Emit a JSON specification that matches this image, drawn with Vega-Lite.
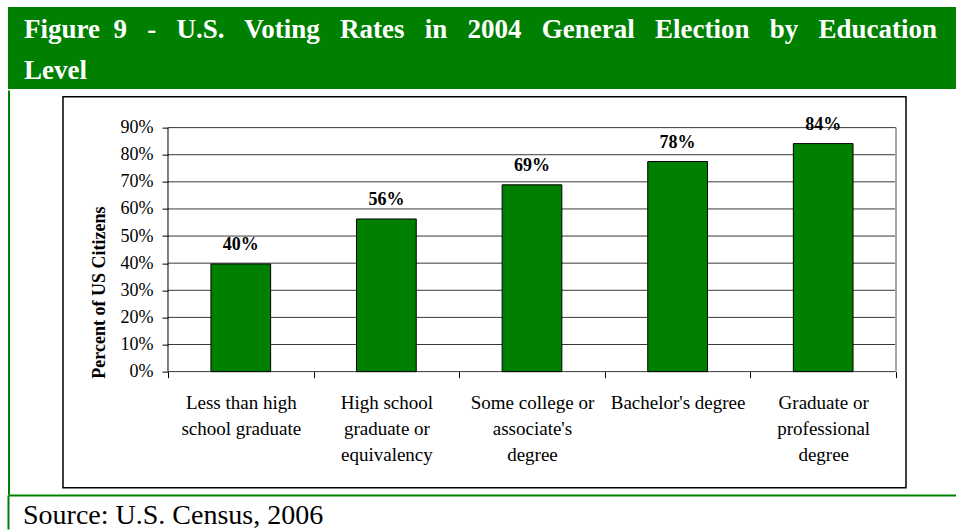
{
  "$schema": "https://vega.github.io/schema/vega-lite/v6.json",
  "background": "white",
  "padding": {"left": 7, "top": 7, "right": 0, "bottom": 0},
  "spacing": 0,
  "datasets": {
    "rates": [
      {"edu": "Less than high school graduate", "rate": 0.397},
      {"edu": "High school graduate or equivalency", "rate": 0.563},
      {"edu": "Some college or associate's degree", "rate": 0.689},
      {"edu": "Bachelor's degree", "rate": 0.775},
      {"edu": "Graduate or professional degree", "rate": 0.841}
    ],
    "gridlines": [
      {"pct": 0}, {"pct": 0.1}, {"pct": 0.2}, {"pct": 0.3}, {"pct": 0.4},
      {"pct": 0.5}, {"pct": 0.6}, {"pct": 0.7}, {"pct": 0.8}, {"pct": 0.9}
    ]
  },
  "vconcat": [
    {
      "width": 949,
      "height": 82,
      "view": {"fill": "#008000", "stroke": null},
      "data": {"values": [
        {"line": 1, "heading": "Figure\u00a0 9\u00a0\u00a0 -\u00a0\u00a0 U.S.\u00a0\u00a0 Voting\u00a0\u00a0 Rates\u00a0\u00a0 in\u00a0\u00a0 2004\u00a0\u00a0 General\u00a0\u00a0 Election\u00a0\u00a0 by\u00a0\u00a0 Education"},
        {"line": 2, "heading": "Level"}
      ]},
      "mark": {"type": "text", "align": "left", "baseline": "alphabetic", "font": "Liberation Serif", "fontSize": 27, "fontWeight": "bold", "color": "white", "dx": 16, "dy": 10.5},
      "encoding": {
        "text": {"field": "heading"},
        "x": {"datum": "heading", "type": "nominal", "scale": {"type": "point", "padding": 0, "align": 0}, "axis": null},
        "y": {"field": "line", "type": "ordinal", "scale": {"type": "point", "padding": 0.5}, "axis": null}
      }
    },
    {
      "spacing": 52,
      "center": true,
      "hconcat": [
        {
          "width": 1,
          "height": 404,
          "view": {"stroke": "#008000", "strokeWidth": 1},
          "data": {"values": [{}]},
          "mark": {"type": "rule", "opacity": 0},
          "encoding": {}
        },
        {
          "width": 843,
          "height": 391,
          "view": {"stroke": "black", "strokeWidth": 1.5, "fill": "white"},
          "resolve": {"axis": {"x": "independent", "y": "independent"}},
          "layer": [
            {
              "data": {"name": "gridlines"},
              "mark": {"type": "rule", "color": "#3a3a3a", "strokeWidth": 1},
              "encoding": {
                "y": {"field": "pct", "type": "quantitative", "axis": null},
                "x": {"datum": "Less than high school graduate", "type": "nominal", "bandPosition": 0, "axis": null},
                "x2": {"datum": "Graduate or professional degree", "bandPosition": 1}
              }
            },
            {
              "data": {"values": [{}]},
              "mark": {"type": "rule", "color": "#a6a6a6", "strokeWidth": 2},
              "encoding": {
                "x": {"datum": "Graduate or professional degree", "type": "nominal", "bandPosition": 1, "axis": null},
                "y": {"datum": 0, "type": "quantitative", "axis": null},
                "y2": {"datum": 0.9}
              }
            },
            {
              "data": {"values": [{}]},
              "mark": {"type": "rule", "color": "black", "strokeWidth": 1},
              "encoding": {
                "x": {"datum": "Less than high school graduate", "type": "nominal", "bandPosition": 0, "axis": null},
                "y": {"datum": 0, "type": "quantitative", "axis": null},
                "y2": {"datum": 0.9}
              }
            },
            {
              "data": {"name": "rates"},
              "mark": {"type": "bar", "color": "#008000", "stroke": "black", "strokeWidth": 1, "width": {"band": 0.41}},
              "encoding": {
                "x": {
                  "field": "edu", "type": "nominal", "sort": null,
                  "scale": {
                    "domain": ["Less than high school graduate", "High school graduate or equivalency", "Some college or associate's degree", "Bachelor's degree", "Graduate or professional degree"],
                    "paddingInner": 0, "paddingOuter": 0.3949, "align": 0.913
                  },
                  "axis": {
                    "orient": "bottom", "offset": -116, "tickBand": "extent", "domain": false, "grid": false,
                    "ticks": true, "tickColor": "black", "tickSize": 6, "tickWidth": 1,
                    "labelFont": "Liberation Serif", "labelFontSize": 19, "labelColor": "black",
                    "labelPadding": 16, "labelLineHeight": 26, "labelAngle": 0, "labelLimit": 0,
                    "labelExpr": "datum.value == 'Less than high school graduate' ? ['Less than high', 'school graduate'] : datum.value == 'High school graduate or equivalency' ? ['High school', 'graduate or', 'equivalency'] : datum.value == \"Some college or associate's degree\" ? ['Some college or', \"associate's\", 'degree'] : datum.value == 'Graduate or professional degree' ? ['Graduate or', 'professional', 'degree'] : datum.label",
                    "title": null
                  }
                },
                "y": {
                  "field": "rate", "type": "quantitative",
                  "scale": {"domain": [-0.4279, 1.0143], "nice": false, "zero": false},
                  "axis": {
                    "orient": "left", "offset": -105,
                    "values": [0, 0.1, 0.2, 0.3, 0.4, 0.5, 0.6, 0.7, 0.8, 0.9],
                    "format": ".0%", "domain": false, "grid": false,
                    "ticks": true, "tickColor": "black", "tickSize": 6, "tickWidth": 1,
                    "labelFont": "Liberation Serif", "labelFontSize": 18, "labelColor": "black", "labelPadding": 9,
                    "title": "Percent of US Citizens", "titleFont": "Liberation Serif", "titleFontSize": 18,
                    "titleFontWeight": "bold", "titleColor": "black", "titlePadding": 12
                  }
                }
              }
            },
            {
              "data": {"name": "rates"},
              "mark": {"type": "text", "font": "Liberation Serif", "fontSize": 18, "fontWeight": "bold", "color": "black", "baseline": "alphabetic", "dy": -14},
              "encoding": {
                "x": {"field": "edu", "type": "nominal", "sort": null, "axis": null},
                "y": {"field": "rate", "type": "quantitative", "axis": null},
                "text": {"field": "rate", "type": "quantitative", "format": ".0%"}
              }
            }
          ]
        }
      ]
    },
    {
      "width": 948,
      "height": 34,
      "data": {"values": [{"source": "Source: U.S. Census, 2006"}]},
      "view": {"stroke": null},
      "mark": {"type": "text", "align": "left", "baseline": "alphabetic", "font": "Liberation Serif", "fontSize": 28, "color": "black", "dx": 15, "dy": 12},
      "encoding": {
        "text": {"field": "source"},
        "x": {
          "field": "source", "type": "nominal",
          "scale": {"type": "point", "padding": 0, "align": 0},
          "axis": {"orient": "top", "domain": true, "domainColor": "#008000", "domainWidth": 2, "labels": false, "ticks": false, "grid": false, "title": null}
        },
        "y": {
          "field": "source", "type": "nominal",
          "scale": {"type": "point", "padding": 0.5},
          "axis": {"orient": "left", "domain": true, "domainColor": "#008000", "domainWidth": 2, "labels": false, "ticks": false, "grid": false, "title": null}
        }
      }
    }
  ]
}
